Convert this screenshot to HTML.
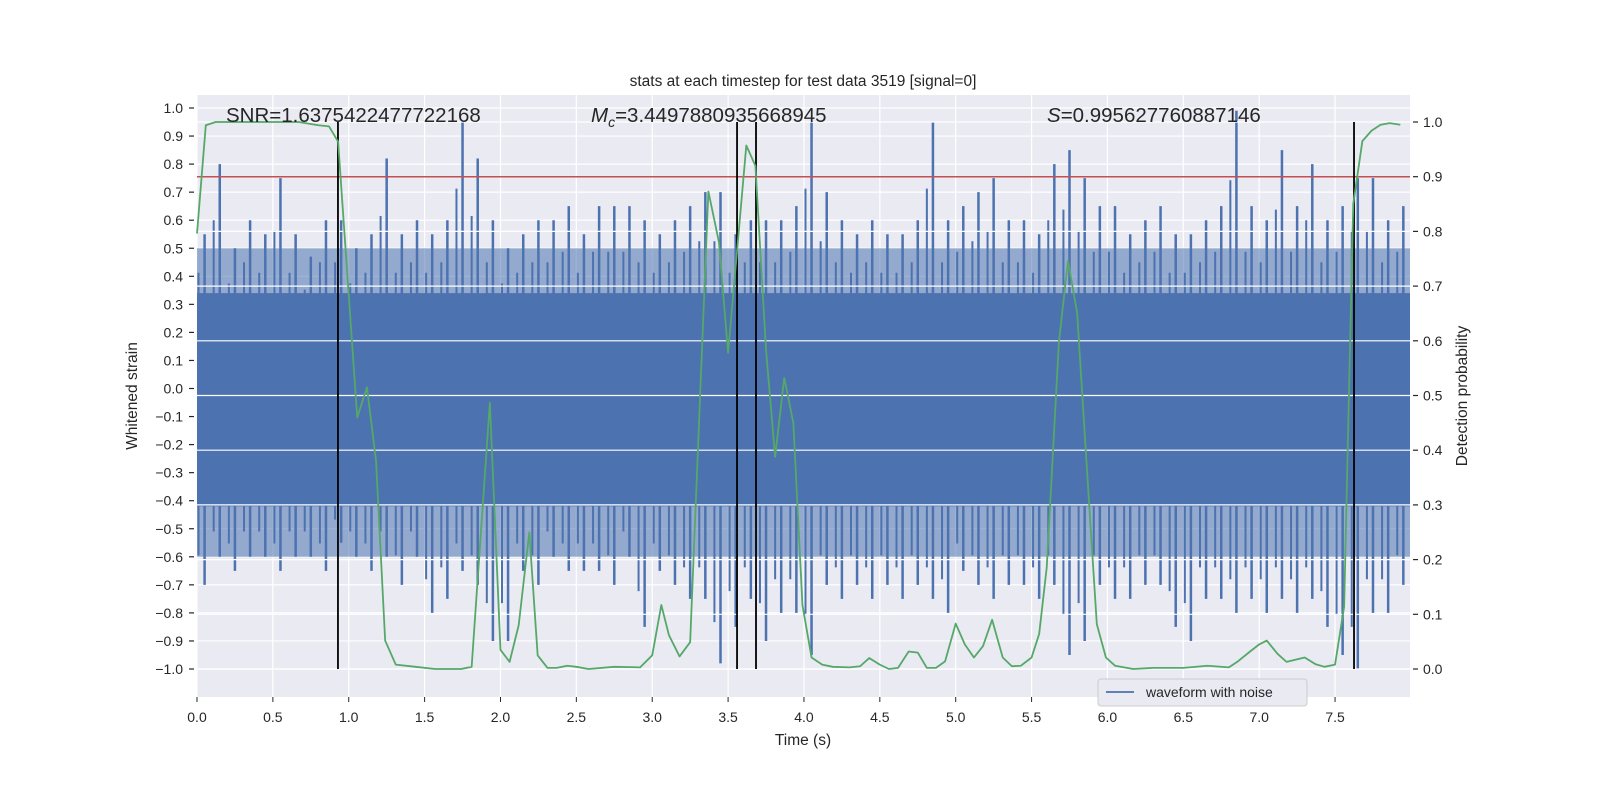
<!DOCTYPE html>
<html><head><meta charset="utf-8"><style>
body{margin:0;background:#fff;}
svg{display:block;font-family:"Liberation Sans","DejaVu Sans",sans-serif;}
</style></head><body>
<svg id="chart" width="1600" height="800" viewBox="0 0 1600 800"></svg>
<script>
// ---- data ----
const timesProb = [0.0,0.058,0.123,0.67,0.80,0.87,0.93,1.056,1.12,1.18,1.24,1.31,1.44,1.57,1.74,1.81,1.93,2.0,2.06,2.12,2.19,2.245,2.31,2.37,2.44,2.5,2.58,2.75,2.92,3.0,3.06,3.11,3.18,3.25,3.37,3.44,3.5,3.62,3.68,3.75,3.81,3.87,3.93,3.99,4.05,4.12,4.19,4.3,4.37,4.43,4.5,4.56,4.62,4.69,4.75,4.81,4.87,4.93,5.0,5.06,5.12,5.18,5.24,5.31,5.37,5.43,5.5,5.55,5.6,5.68,5.74,5.8,5.87,5.93,5.99,6.05,6.17,6.3,6.5,6.66,6.8,6.86,6.94,7.0,7.05,7.12,7.18,7.3,7.37,7.43,7.5,7.56,7.62,7.68,7.74,7.8,7.86,7.93];
const probs = [0.796,0.994,1.0,1.0,0.994,0.992,0.964,0.46,0.515,0.38,0.052,0.008,0.004,0.0,0.0,0.004,0.487,0.035,0.013,0.08,0.25,0.025,0.002,0.002,0.006,0.004,0.0,0.004,0.003,0.025,0.117,0.062,0.023,0.049,0.873,0.78,0.578,0.957,0.92,0.583,0.388,0.532,0.45,0.117,0.021,0.008,0.004,0.003,0.005,0.02,0.008,0.0,0.002,0.032,0.03,0.002,0.002,0.014,0.083,0.045,0.021,0.042,0.09,0.021,0.005,0.006,0.021,0.064,0.186,0.597,0.746,0.652,0.343,0.082,0.021,0.006,0.0,0.002,0.002,0.006,0.003,0.014,0.032,0.045,0.052,0.028,0.013,0.021,0.009,0.004,0.008,0.114,0.85,0.965,0.984,0.995,0.998,0.995];
const strainMax = [0.55,0.8,0.5,0.6,0.55,0.75,0.55,0.47,0.6,0.6,0.5,0.55,0.82,0.55,0.6,0.55,0.6,0.95,0.82,0.6,0.5,0.55,0.6,0.6,0.65,0.55,0.65,0.65,0.65,0.6,0.55,0.6,0.65,0.7,0.7,0.55,0.6,0.6,0.6,0.65,0.95,0.7,0.6,0.55,0.6,0.55,0.55,0.6,0.95,0.6,0.65,0.7,0.75,0.6,0.6,0.55,0.8,0.85,0.75,0.65,0.65,0.55,0.6,0.65,0.55,0.55,0.6,0.65,0.99,0.65,0.6,0.85,0.65,0.8,0.6,0.65,0.75,0.75,0.6,0.65];
const strainMin = [-0.7,-0.6,-0.65,-0.6,-0.6,-0.65,-0.6,-0.6,-0.65,-0.55,-0.6,-0.65,-0.6,-0.7,-0.6,-0.8,-0.75,-0.65,-0.7,-0.9,-0.9,-0.65,-0.7,-0.6,-0.65,-0.65,-0.65,-0.7,-0.6,-0.85,-0.65,-0.7,-0.75,-0.75,-0.98,-0.85,-0.75,-0.9,-0.8,-0.8,-0.95,-0.7,-0.75,-0.7,-0.75,-0.7,-0.75,-0.7,-0.75,-0.8,-0.65,-0.7,-0.75,-0.7,-0.7,-0.75,-0.7,-0.95,-0.9,-0.7,-0.75,-0.75,-0.7,-0.7,-0.85,-0.9,-0.75,-0.75,-0.8,-0.75,-0.8,-0.75,-0.8,-0.75,-0.85,-0.95,-1.0,-0.8,-0.8,-0.7];
const binWidth = 0.1;
const coreBand = [-0.42, 0.34];
const fuzzBand = [-0.6, 0.5];
const threshold = 0.9;
const markerTimes = [0.929, 3.559, 3.684, 7.625];
const xTicks = [0.0,0.5,1.0,1.5,2.0,2.5,3.0,3.5,4.0,4.5,5.0,5.5,6.0,6.5,7.0,7.5];
const yLeftTicks = [1.0,0.9,0.8,0.7,0.6,0.5,0.4,0.3,0.2,0.1,0.0,-0.1,-0.2,-0.3,-0.4,-0.5,-0.6,-0.7,-0.8,-0.9,-1.0];
const yRightTicks = [0.0,0.1,0.2,0.3,0.4,0.5,0.6,0.7,0.8,0.9,1.0];

// ---- axes ----
const L=197,R=1410,T=95,B=697;
const X=t=>L+t*151.74;
const YL=v=>388.5-v*280.5;
const YR=p=>669-p*547;
const NS="http://www.w3.org/2000/svg";
const svg=document.getElementById('chart');
function mk(tag,attrs,parent){const e=document.createElementNS(NS,tag);for(const k in attrs)e.setAttribute(k,attrs[k]);(parent||svg).appendChild(e);return e;}

let e=mk('rect',{x:L,y:T,width:R-L,height:B-T,fill:'#eaeaf2'});



const gridG=mk('g',{stroke:'#fff','stroke-width':1.2});


yLeftTicks.forEach(v=>mk('line',{x1:L,x2:R,y1:YL(v),y2:YL(v)},gridG));
xTicks.forEach(t=>mk('line',{x1:X(t),x2:X(t),y1:T,y2:B},gridG));

// waveform
const wf=mk('g',{});


e=mk('rect',{x:L,y:YL(fuzzBand[1]),width:R-L,height:YL(fuzzBand[0])-YL(fuzzBand[1]),fill:'#4c72b0',opacity:0.55},wf);


e=mk('rect',{x:L,y:YL(coreBand[1]),width:R-L,height:YL(coreBand[0])-YL(coreBand[1]),fill:'#4c72b0'},wf);


strainMax.forEach((v,i)=>{
  const t=(i+0.5)*binWidth;
  const ln=mk('line',{x1:X(t),x2:X(t),y1:YL(v),y2:YL(strainMin[i]),stroke:'#4c72b0','stroke-width':2.5},wf);
  
  
  const ln2=mk('line',{x1:X(t-0.04),x2:X(t-0.04),y1:YL(v*0.75),y2:YL(strainMin[i]*0.85),stroke:'#4c72b0','stroke-width':2},wf);
  
  
});

// right grid (twin axis) on top
const grid2=mk('g',{stroke:'#fff','stroke-width':1.2});


yRightTicks.forEach(p=>mk('line',{x1:L,x2:R,y1:YR(p),y2:YR(p)},grid2));

// threshold
e=mk('line',{x1:L,x2:R,y1:YR(threshold),y2:YR(threshold),stroke:'#c44e52','stroke-width':1.5});



// markers
markerTimes.forEach(t=>{
  const m=mk('line',{x1:X(t),x2:X(t),y1:YR(1),y2:YR(0),stroke:'#000','stroke-width':1.8});
  
  
});

// probability line
e=mk('polyline',{points:probs.map((p,i)=>X(timesProb[i])+','+YR(p)).join(' '),fill:'none',stroke:'#55a868','stroke-width':1.8,'stroke-linejoin':'round'});



// ticks & labels
const tk=mk('g',{fill:'#262626','font-size':14});


xTicks.forEach(t=>{const s=mk('text',{x:X(t),y:722,'text-anchor':'middle'},tk);s.textContent=t.toFixed(1);
  mk('line',{x1:X(t),x2:X(t),y1:B,y2:B+5,stroke:'#262626'},tk);});
yLeftTicks.forEach(v=>{const s=mk('text',{x:183,y:YL(v)+5,'text-anchor':'end'},tk);s.textContent=(v<0?'\u2212':'')+Math.abs(v).toFixed(1);
  mk('line',{x1:L-8,x2:L-3,y1:YL(v),y2:YL(v),stroke:'#262626','stroke-width':1.2},tk);});
yRightTicks.forEach(p=>{const s=mk('text',{x:1423,y:YR(p)+5,'text-anchor':'start'},tk);s.textContent=p.toFixed(1);
  mk('line',{x1:R+3,x2:R+8,y1:YR(p),y2:YR(p),stroke:'#262626','stroke-width':1.2},tk);});

function txt(x,y,s,attrs,name){const t=mk('text',Object.assign({x:x,y:y,fill:'#262626'},attrs));t.textContent=s;
  
  return t;}
txt(803,86,'stats at each timestep for test data 3519 [signal=0]',{'text-anchor':'middle','font-size':15.5},'chart-title');
txt(803,745,'Time (s)',{'text-anchor':'middle','font-size':15.5},'x-axis-title');
txt(0,0,'Whitened strain',{'text-anchor':'middle','font-size':15.5,transform:'translate(137,396) rotate(-90)'},'y-axis-title-left');
txt(0,0,'Detection probability',{'text-anchor':'middle','font-size':15.5,transform:'translate(1467,396) rotate(-90)'},'y-axis-title-right');
txt(226,122,'SNR=1.6375422477722168',{'font-size':20.5},'snr-annotation');
const mc=txt(591,122,'',{'font-size':20.5},'chirp-mass-annotation');
mc.innerHTML='<tspan font-style="italic">M</tspan><tspan font-style="italic" font-size="14" dy="5">c</tspan><tspan dy="-5">=3.4497880935668945</tspan>';
const sa=txt(1047,122,'',{'font-size':20.5},'score-annotation');
sa.innerHTML='<tspan font-style="italic">S</tspan>=0.995627760887146';

// legend
const lg=mk('g',{});


mk('rect',{x:1098,y:679,width:209,height:27,rx:3,fill:'#eaeaf2',stroke:'#cccccc'},lg);
mk('line',{x1:1106,x2:1134,y1:692,y2:692,stroke:'#4c72b0','stroke-width':1.8},lg);
const lt=mk('text',{x:1146,y:697,'font-size':14,fill:'#262626'},lg);lt.textContent='waveform with noise';


</script>
</body></html>
